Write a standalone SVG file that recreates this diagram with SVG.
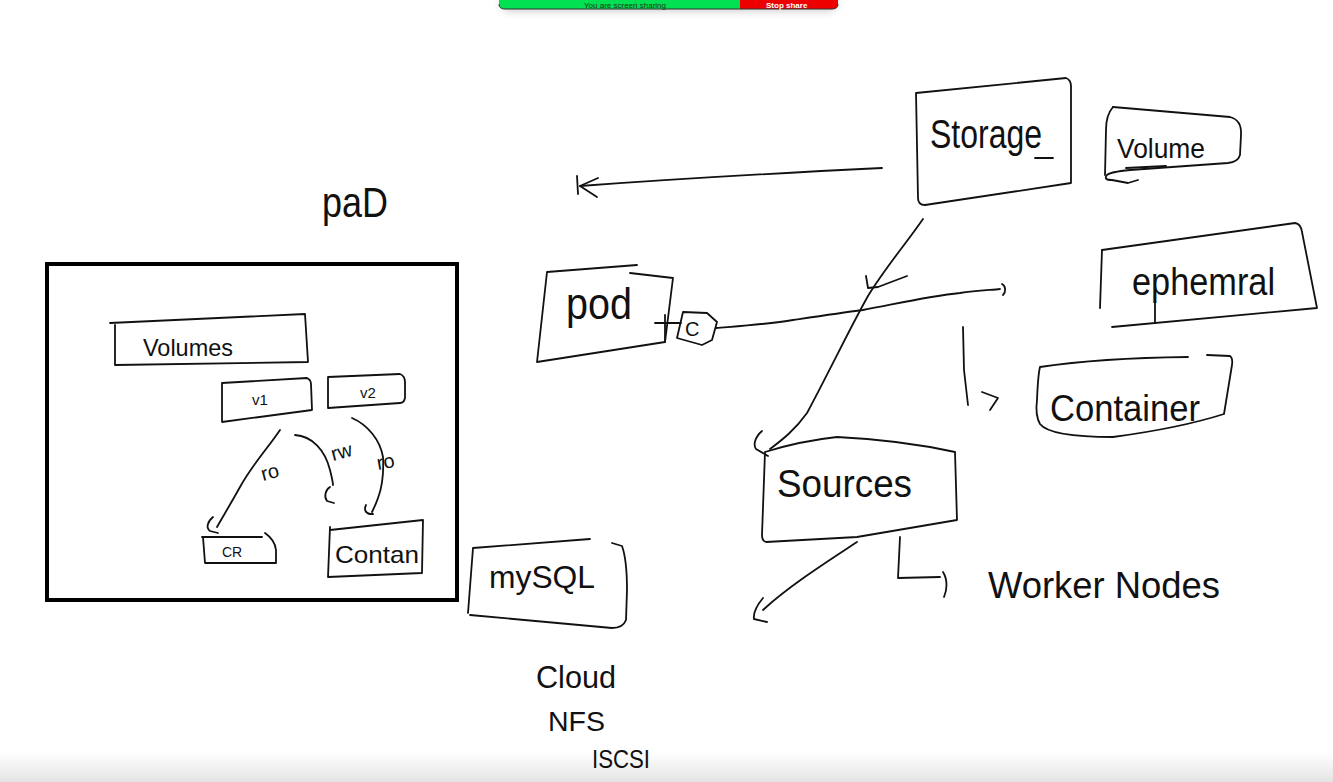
<svg xmlns="http://www.w3.org/2000/svg" width="1333" height="782" viewBox="0 0 1333 782">
<defs>
<style>
.s{fill:none;stroke:#111;stroke-width:1.8;stroke-linecap:round;stroke-linejoin:round}
.t{font-family:"Liberation Sans",Arial,sans-serif;fill:#111}
</style>
<linearGradient id="btm" x1="0" y1="0" x2="0" y2="1">
<stop offset="0" stop-color="#ffffff"/>
<stop offset="1" stop-color="#e4e4e4"/>
</linearGradient>
<filter id="sh" x="-20%" y="-100%" width="140%" height="400%">
<feGaussianBlur stdDeviation="5"/>
</filter>
</defs>
<rect x="0" y="0" width="1333" height="782" fill="#ffffff"/>
<rect x="0" y="752" width="1333" height="30" fill="url(#btm)"/>

<!-- screen share bar -->
<g id="share-bar">
<rect x="502" y="-6" width="334" height="16" rx="6" fill="#000" opacity="0.25" filter="url(#sh)"/>
<path d="M499,-2 H740 V9 H505 Q499,9 499,4 Z" fill="#00e050"/>
<path d="M740,-2 H838 V4 Q838,9 832,9 H740 Z" fill="#ee0000"/>
<path d="M499,4 Q499,9 505,9 H832 Q838,9 838,4" fill="none" stroke="#333" stroke-width="1"/>
<text x="625" y="7.5" text-anchor="middle" class="t" font-size="8" style="fill:#1b3b1b">You are screen sharing</text>
<text x="766" y="7.5" class="t" font-size="8" font-weight="bold" style="fill:#fff">Stop share</text>
</g>

<!-- connectors -->
<g id="connectors">
<!-- storage -> pod (left arrow) -->
<path class="s" d="M882,168 C800,172 690,178 580,186"/>
<path class="s" d="M598,178 L580,186 L597,197"/>
<path class="s" d="M577,176 L578,194"/>
<!-- storage -> sources -->
<path class="s" d="M923,219 C905,245 885,268 868,296 C850,328 830,370 807,413 C795,430 782,440 770,449"/>
<path class="s" d="M762,431 C755,437 753,445 756,449 L768,456"/>
<path class="s" d="M866,276 L868,288 L878,287 L907,276"/>
<!-- pod -> C stub -->
<path class="s" d="M655,323 L681,323"/>
<path class="s" d="M665,315 L665,342"/>
<!-- C -> ephemeral -->
<path class="s" d="M716,328 C740,326 770,324 793,320 C820,316 840,313 863,310 C900,303 930,296 960,293 C975,291 990,290 1000,289"/>
<path class="s" d="M1002,284 C1006,286 1006,292 1003,295"/>
<!-- container branch -->
<path class="s" d="M963,327 L964,370 L968,405"/>
<path class="s" d="M982,392 L998,398 L990,410"/>
<!-- sources -> down-left -->
<path class="s" d="M857,542 C830,560 790,585 763,610"/>
<path class="s" d="M763,598 C758,604 753,612 754,619 L767,622"/>
<!-- sources -> worker nodes -->
<path class="s" d="M900,537 L898,578 L940,577"/>
<path class="s" d="M943,572 C948,580 947,590 944,597"/>
<!-- v1 -> CR (ro) -->
<path class="s" d="M280,430 C268,448 252,465 240,487 C230,505 222,518 217,527"/>
<path class="s" d="M213,517 C207,522 206,528 210,531 L218,533"/>
<!-- v1 -> Contan (rw) -->
<path class="s" d="M295,435 C312,436 325,450 330,470 C332,478 333,482 333,485"/>
<path class="s" d="M330,487 C325,490 324,497 327,501 L334,503"/>
<!-- v2 -> Contan (ro) -->
<path class="s" d="M352,418 C368,425 380,440 383,457 C384,475 381,490 378,498 C376,504 374,508 372,512"/>
<path class="s" d="M366,505 C364,509 365,513 370,514 L373,514"/>
<text x="263" y="481" class="t" font-size="20" transform="rotate(-15 263 481)">ro</text>
<text x="333" y="461" class="t" font-size="20" transform="rotate(-15 333 461)">rw</text>
<text x="378" y="470" class="t" font-size="20" transform="rotate(-10 378 470)">ro</text>
</g>

<!-- pod frame -->
<g id="pod-frame">
<rect x="47" y="264" width="410" height="336" fill="none" stroke="#000" stroke-width="4"/>
</g>
<g id="pod-title">
<text x="322" y="217" class="t" font-size="42" textLength="66" lengthAdjust="spacingAndGlyphs">paD</text>
</g>
<g id="volumes-box">
<path class="s" d="M110,323 L305,314 L308,362 L115,365 L115,325"/>
<text x="143" y="356" class="t" font-size="24" textLength="90" lengthAdjust="spacingAndGlyphs">Volumes</text>
</g>
<g id="v1">
<path class="s" d="M222,383 L307,378 Q311,380 311,384 L312,410 L222,422 Z"/>
<text x="252" y="405" class="t" font-size="15">v1</text>
</g>
<g id="v2">
<path class="s" d="M328,377 L400,374 Q405,376 405,382 L405,398 Q404,403 400,403 L328,408 Z"/>
<text x="360" y="398" class="t" font-size="15">v2</text>
</g>
<g id="cr">
<path class="s" d="M202,537 L262,537 M265,533 Q275,540 276,550 L276,563 L205,563 L203,537"/>
<text x="222" y="557" class="t" font-size="14">CR</text>
</g>
<g id="contan">
<path class="s" d="M330,530 L423,520 L422,573 L328,577 L330,527"/>
<text x="335" y="563" class="t" font-size="24" textLength="84" lengthAdjust="spacingAndGlyphs">Contan</text>
</g>

<g id="storage">
<path class="s" d="M916,93 L1066,78 Q1071,80 1071,86 L1071,183 L925,205 Q918,205 918,198 Z"/>
<text x="930" y="148" class="t" font-size="40" textLength="112" lengthAdjust="spacingAndGlyphs">Storage</text>
<path class="s" d="M1035,158 L1053,158"/>
</g>
<g id="volume">
<path class="s" d="M1113,107 L1230,117 Q1242,120 1241,135 L1240,155 Q1238,162 1228,163 L1130,170 Q1110,172 1107,175 Q1103,180 1112,180 L1128,183 L1138,180"/>
<path class="s" d="M1113,107 Q1106,115 1106,130 L1105,175"/>
<text x="1117" y="158" class="t" font-size="28" textLength="88" lengthAdjust="spacingAndGlyphs">Volume</text>
<path class="s" d="M1126,168 L1166,166"/>
</g>
<g id="pod">
<path class="s" d="M547,272 L637,265 M630,273 L673,278 L665,342 L537,362 L547,272"/>
<text x="566" y="319" class="t" font-size="44" textLength="66" lengthAdjust="spacingAndGlyphs">pod</text>
</g>
<g id="c">
<path class="s" d="M683,312 L707,313 L717,322 L712,340 L702,345 L677,338 Z"/>
<text x="685" y="336" class="t" font-size="20">C</text>
</g>
<g id="ephemeral">
<path class="s" d="M1102,250 L1295,223 Q1301,224 1302,232 L1317,308 L1112,327"/>
<path class="s" d="M1102,250 L1100,308"/>
<text x="1132" y="295" class="t" font-size="38" textLength="143" lengthAdjust="spacingAndGlyphs">ephemral</text>
<path class="s" d="M1155,283 L1155,323"/>
</g>
<g id="container">
<path class="s" d="M1040,367 Q1100,358 1188,357 M1207,355 L1230,356 Q1233,358 1232,365 L1224,414 Q1180,428 1113,437 Q1050,437 1040,424 Q1035,415 1037,400 Q1038,375 1040,367"/>
<text x="1050" y="421" class="t" font-size="36" textLength="150" lengthAdjust="spacingAndGlyphs">Container</text>
</g>
<g id="sources">
<path class="s" d="M765,452 Q800,441 837,437 Q900,440 955,452 L957,520 L857,537 L766,542 Q762,541 762,535 L765,452"/>
<text x="777" y="497" class="t" font-size="38" textLength="135" lengthAdjust="spacingAndGlyphs">Sources</text>
</g>
<g id="worker-nodes">
<text x="988" y="598" class="t" font-size="36" textLength="232" lengthAdjust="spacingAndGlyphs">Worker Nodes</text>
</g>
<g id="mysql">
<path class="s" d="M473,548 L590,539 M612,543 L622,546 Q627,560 627,590 L626,620 Q623,628 612,628 L470,615 M473,548 L468,613"/>
<text x="489" y="588" class="t" font-size="32" textLength="106" lengthAdjust="spacingAndGlyphs">mySQL</text>
</g>
<g id="storage-types">
<text x="536" y="688" class="t" font-size="32" textLength="80" lengthAdjust="spacingAndGlyphs">Cloud</text>
<text x="548" y="731" class="t" font-size="28" textLength="57" lengthAdjust="spacingAndGlyphs">NFS</text>
<text x="592" y="768" class="t" font-size="26" textLength="58" lengthAdjust="spacingAndGlyphs">ISCSI</text>
</g>
</svg>
